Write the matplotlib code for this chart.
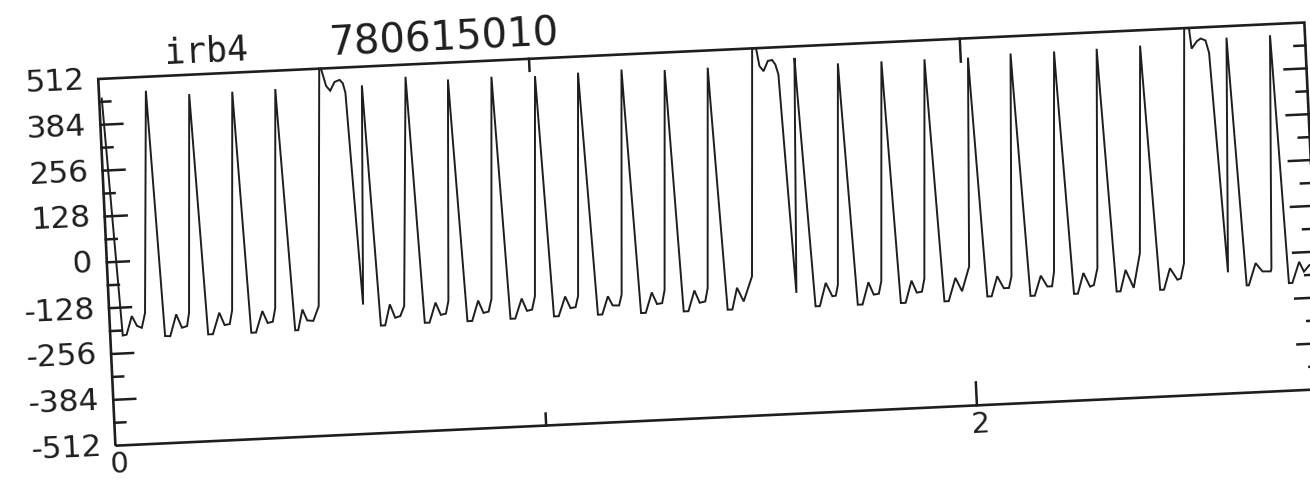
import numpy as np
import matplotlib
matplotlib.use("Agg")
import matplotlib.pyplot as plt
import matplotlib.transforms as mtransforms
from matplotlib.patches import Rectangle

# ---------------- trace irb4, record 780615010 ----------------
# time (s) and amplitude (counts), one row per beat
t = [
    0.006, 0.029, 0.038, 0.052, 0.063, 0.074, 0.083,
    0.109, 0.111, 0.127, 0.139, 0.155, 0.167, 0.179, 0.185,
    0.209, 0.211, 0.227, 0.238, 0.255, 0.266, 0.278, 0.285,
    0.309, 0.311, 0.327, 0.338, 0.355, 0.366, 0.378, 0.385,
    0.409, 0.411, 0.429, 0.436, 0.448, 0.458, 0.472, 0.486,
    0.513, 0.517, 0.527, 0.536, 0.547, 0.559, 0.566, 0.571, 0.589,
    0.610, 0.612, 0.628, 0.638, 0.651, 0.662, 0.674, 0.684,
    0.712, 0.714, 0.730, 0.741, 0.757, 0.768, 0.780, 0.787,
    0.810, 0.812, 0.829, 0.840, 0.856, 0.867, 0.879, 0.887,
    0.911, 0.913, 0.929, 0.940, 0.957, 0.968, 0.980, 0.988,
    1.012, 1.014, 1.030, 1.041, 1.058, 1.069, 1.081, 1.088,
    1.112, 1.114, 1.132, 1.142, 1.157, 1.167, 1.182, 1.189,
    1.213, 1.215, 1.232, 1.243, 1.259, 1.270, 1.282, 1.289,
    1.313, 1.315, 1.331, 1.342, 1.358, 1.369, 1.382, 1.389,
    1.413, 1.415, 1.433, 1.444, 1.457, 1.471, 1.493,
    1.518, 1.527, 1.533, 1.542, 1.553, 1.563, 1.570, 1.576, 1.594,
    1.615, 1.617, 1.637, 1.647, 1.663, 1.677, 1.685, 1.691,
    1.715, 1.717, 1.735, 1.746, 1.762, 1.773, 1.785, 1.792,
    1.816, 1.818, 1.835, 1.846, 1.862, 1.873, 1.885, 1.892,
    1.916, 1.918, 1.936, 1.946, 1.964, 1.978, 1.997,
    2.017, 2.019, 2.036, 2.046, 2.061, 2.075, 2.087, 2.094,
    2.116, 2.118, 2.136, 2.146, 2.162, 2.176, 2.187, 2.193,
    2.217, 2.219, 2.237, 2.246, 2.261, 2.275, 2.284, 2.294,
    2.316, 2.318, 2.336, 2.345, 2.359, 2.376, 2.394,
    2.417, 2.419, 2.437, 2.446, 2.462, 2.478, 2.486, 2.495,
    2.521, 2.532, 2.536, 2.549, 2.558, 2.569, 2.576, 2.596,
    2.618, 2.620, 2.638, 2.643, 2.661, 2.676, 2.695, 2.697,
    2.719, 2.721, 2.736, 2.744, 2.762, 2.772, 2.785, 2.795,
]
amp = [
    457, -206, -204, -153, -181, -187, -146,
    473, 398, -213, -214, -154, -192, -188, -151,
    458, 383, -214, -214, -155, -190, -188, -150,
    459, 384, -215, -215, -156, -190, -187, -150,
    461, 386, -214, -214, -157, -188, -190, -150,
    512, 512, 463, 449, 473, 478, 468, 442, -151,
    460, 385, -212, -212, -154, -192, -188, -161,
    478, 403, -210, -210, -155, -190, -187, -152,
    465, 390, -211, -211, -155, -190, -187, -152,
    467, 392, -210, -210, -155, -190, -187, -150,
    463, 388, -209, -209, -155, -188, -186, -155,
    467, 392, -210, -210, -160, -186, -187, -157,
    470, 395, -211, -211, -155, -188, -186, -150,
    463, 388, -212, -212, -155, -190, -187, -150,
    464, 389, -213, -213, -153, -192, -123,
    512, 512, 462, 447, 475, 477, 464, 436, -175,
    480, 405, -215, -215, -151, -189, -188, -158,
    459, 384, -216, -216, -155, -190, -188, -153,
    459, 384, -217, -217, -156, -190, -188, -152,
    459, 384, -218, -218, -154, -192, -124,
    458, 383, -210, -210, -155, -189, -189, -157,
    464, 389, -214, -214, -159, -190, -190, -150,
    464, 389, -214, -214, -157, -196, -192, -145,
    466, 391, -213, -213, -154, -205, -109,
    469, 394, -214, -214, -155, -188, -185, -143,
    512, 512, 454, 474, 481, 475, 440, -174,
    480, 405, -213, -213, -152, -176, -177, -170,
    481, 406, -212, -212, -154, -182, -165, -160,
]

y_major = [-384, -256, -128, 0, 128, 256, 384]
y_minor = [-448, -320, -192, -64, 64, 192, 320, 448]
y_labels = [512, 384, 256, 128, 0, -128, -256, -384, -512]
x_major = [2]
x_minor = [1]
x_labels = [0, 2]

tilt = 2.68          # plotter sheet sits a little crooked
ink = "#1e1e1e"

plt.rcParams["font.family"] = "DejaVu Sans"

fig = plt.figure(figsize=(13.1, 4.81), dpi=100)
ax = fig.add_axes([0.0750, 0.0705, 0.9217, 0.7632])
ax.set_autoscale_on(False)
ax.set_xlim(0, 2.8)
ax.set_ylim(-512, 512)
ax.set_axis_off()

# rotate everything about the top-left corner of the frame
x0, y0 = ax.transAxes.transform((0, 1))
rot = mtransforms.Affine2D().rotate_deg_around(x0, y0, tilt)
data_tr = ax.transData + rot
frame_tr = ax.transAxes + rot
ytick_tr = mtransforms.blended_transform_factory(ax.transAxes, ax.transData) + rot
xtick_tr = mtransforms.blended_transform_factory(ax.transData, ax.transAxes) + rot
w_px, h_px = ax.bbox.width, ax.bbox.height

# trace
ax.plot(t, amp, transform=data_tr, color=ink, lw=1.4, clip_on=False,
        solid_joinstyle="miter")

# frame
ax.add_patch(Rectangle((0, 0), 1, 1, transform=frame_tr, fill=False,
                       ec=ink, lw=1.9, clip_on=False))

# y ticks on both sides, pointing inwards
for vals, length in ((y_major, 22), (y_minor, 11)):
    f = length / w_px
    for v in vals:
        ax.plot([0, f], [v, v], transform=ytick_tr, color=ink, lw=1.8, clip_on=False)
        ax.plot([1 - f, 1], [v, v], transform=ytick_tr, color=ink, lw=1.8, clip_on=False)

# x ticks on bottom and top
for vals, length in ((x_major, 23), (x_minor, 12)):
    f = length / h_px
    for v in vals:
        ax.plot([v, v], [0, f], transform=xtick_tr, color=ink, lw=1.8, clip_on=False)
        ax.plot([v, v], [1 - f, 1], transform=xtick_tr, color=ink, lw=1.8, clip_on=False)

# tick labels
for v in y_labels:
    ax.text(-14 / w_px, v, str(v), transform=ytick_tr, ha="right", va="center",
            fontsize=22.5, color=ink, rotation=tilt, rotation_mode="anchor")
for v in x_labels:
    ax.text(v + 0.007, -26 / h_px, str(v), transform=xtick_tr, ha="center",
            va="baseline", fontsize=21, color=ink, rotation=tilt,
            rotation_mode="anchor")

# header
ax.text(0.0558, 1.0363, "irb4", transform=frame_tr, ha="left", va="baseline",
        fontsize=25, family="DejaVu Sans Mono", color=ink,
        rotation=tilt, rotation_mode="anchor")
ax.text(0.1927, 1.0373, "780615010", transform=frame_tr, ha="left", va="baseline",
        fontsize=29, color=ink, rotation=tilt, rotation_mode="anchor")

fig.savefig("out.png", dpi=100, facecolor="white")
